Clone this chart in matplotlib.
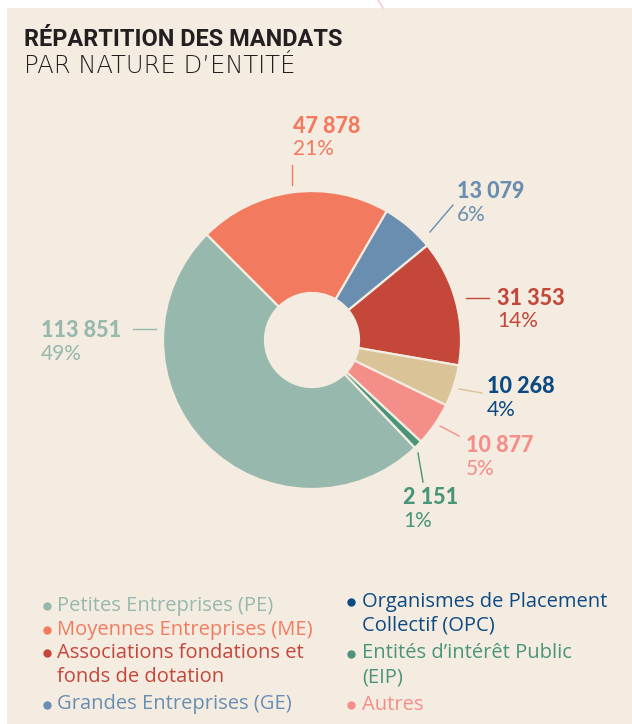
import matplotlib
matplotlib.use("Agg")
import matplotlib.pyplot as plt
from matplotlib.patches import Rectangle

# --- data (pie order, clockwise from the top-left) ---
categories = ["Moyennes Entreprises (ME)", "Grandes Entreprises (GE)",
              "Associations fondations et\nfonds de dotation",
              "Organismes de Placement\nCollectif (OPC)", "Autres",
              "Entités d’intérêt Public\n(EIP)", "Petites Entreprises (PE)"]
mandats = [47878, 13079, 31353, 10268, 10877, 2151, 113851]
pct_labels = ["21%", "6%", "14%", "4%", "5%", "1%", "49%"]

# legend order (index into categories)
legend_col1 = [6, 0, 2, 1]
legend_col2 = [3, 5, 4]

# --- styles ---
BG = "#f4ece1"
slice_colors = ["#f27b5f", "#6a8eb0", "#c4473a", "#d9c397", "#f48e88", "#4a957a", "#97b8ad"]
text_colors = ["#f27b5f", "#6a8eb0", "#c4473a", "#0d4a82", "#f48e88", "#4a957a", "#97b8ad"]

W, H = 632, 724
def Y(y):
    return H - y

# label layout: (x, number baseline, pct baseline, leader line x0, y0, x1, y1) in pixels from top
label_pos = [
    (293, 133, 155, 292, 165, 292, 185),
    (457, 198, 221, 453, 205, 430, 232),
    (497, 305, 327, 466, 298, 489, 298),
    (487, 393, 416, 459, 389, 482, 393),
    (466, 452, 475, 440, 426, 459, 436),
    (403, 504, 527, 418, 453, 423, 482),
    (41, 337, 360, 133, 329, 156, 329),
]

fig = plt.figure(figsize=(W / 100, H / 100), dpi=100, facecolor="white")
ax = fig.add_axes([0, 0, 1, 1])
ax.add_patch(Rectangle((7, 0), W - 7, H - 8, facecolor=BG, edgecolor="none", zorder=0))
ax.plot([378, 383], [Y(0), Y(8)], color="#f0c6c8", lw=1, zorder=1)

ax.pie(mandats, colors=slice_colors, startangle=135, counterclock=False,
       center=(312, Y(340)), radius=149,
       wedgeprops=dict(width=102, edgecolor=BG, linewidth=1.6))

ax.set_xlim(0, W)
ax.set_ylim(0, H)
ax.set_aspect("equal")
ax.axis("off")

# title
ax.text(24, Y(46), "RÉPARTITION DES MANDATS", fontsize=16.9, fontweight="bold",
        family=["Roboto", "DejaVu Sans"], color="#231f20", va="baseline")
ax.text(24, Y(73), "PAR NATURE D’ENTITÉ", fontsize=17.5, fontweight=200,
        family=["DejaVu Sans"], color="#231f20", va="baseline")

# value labels + leader lines
for i, v in enumerate(mandats):
    x, yn, yp, lx0, ly0, lx1, ly1 = label_pos[i]
    ax.text(x, Y(yn), f"{v:,}".replace(",", " "), fontsize=15.5, fontweight="black",
            family=["Lato", "DejaVu Sans"], color=text_colors[i], va="baseline")
    ax.text(x, Y(yp), pct_labels[i], fontsize=15, fontweight="normal",
            family=["Lato", "DejaVu Sans"], color=text_colors[i], va="baseline")
    ax.plot([lx0, lx1], [Y(ly0), Y(ly1)], color=slice_colors[i], lw=1)

# legend
def legend_col(idx_list, xb, xt, y0):
    y = y0
    for i in idx_list:
        lines = categories[i].split("\n")
        ax.plot(xb, Y(y - 5), "o", ms=5, color=text_colors[i])
        for ln in lines:
            ax.text(xt, Y(y), ln, fontsize=14.5, family=["Open Sans", "DejaVu Sans"],
                    color=text_colors[i], va="baseline")
            y += 23.5
        y += 4.5 if len(lines) > 1 else 0

legend_col(legend_col1, 47, 57, 611)
legend_col(legend_col2, 351, 362, 607)

fig.savefig("out.png", dpi=100, facecolor="white")
